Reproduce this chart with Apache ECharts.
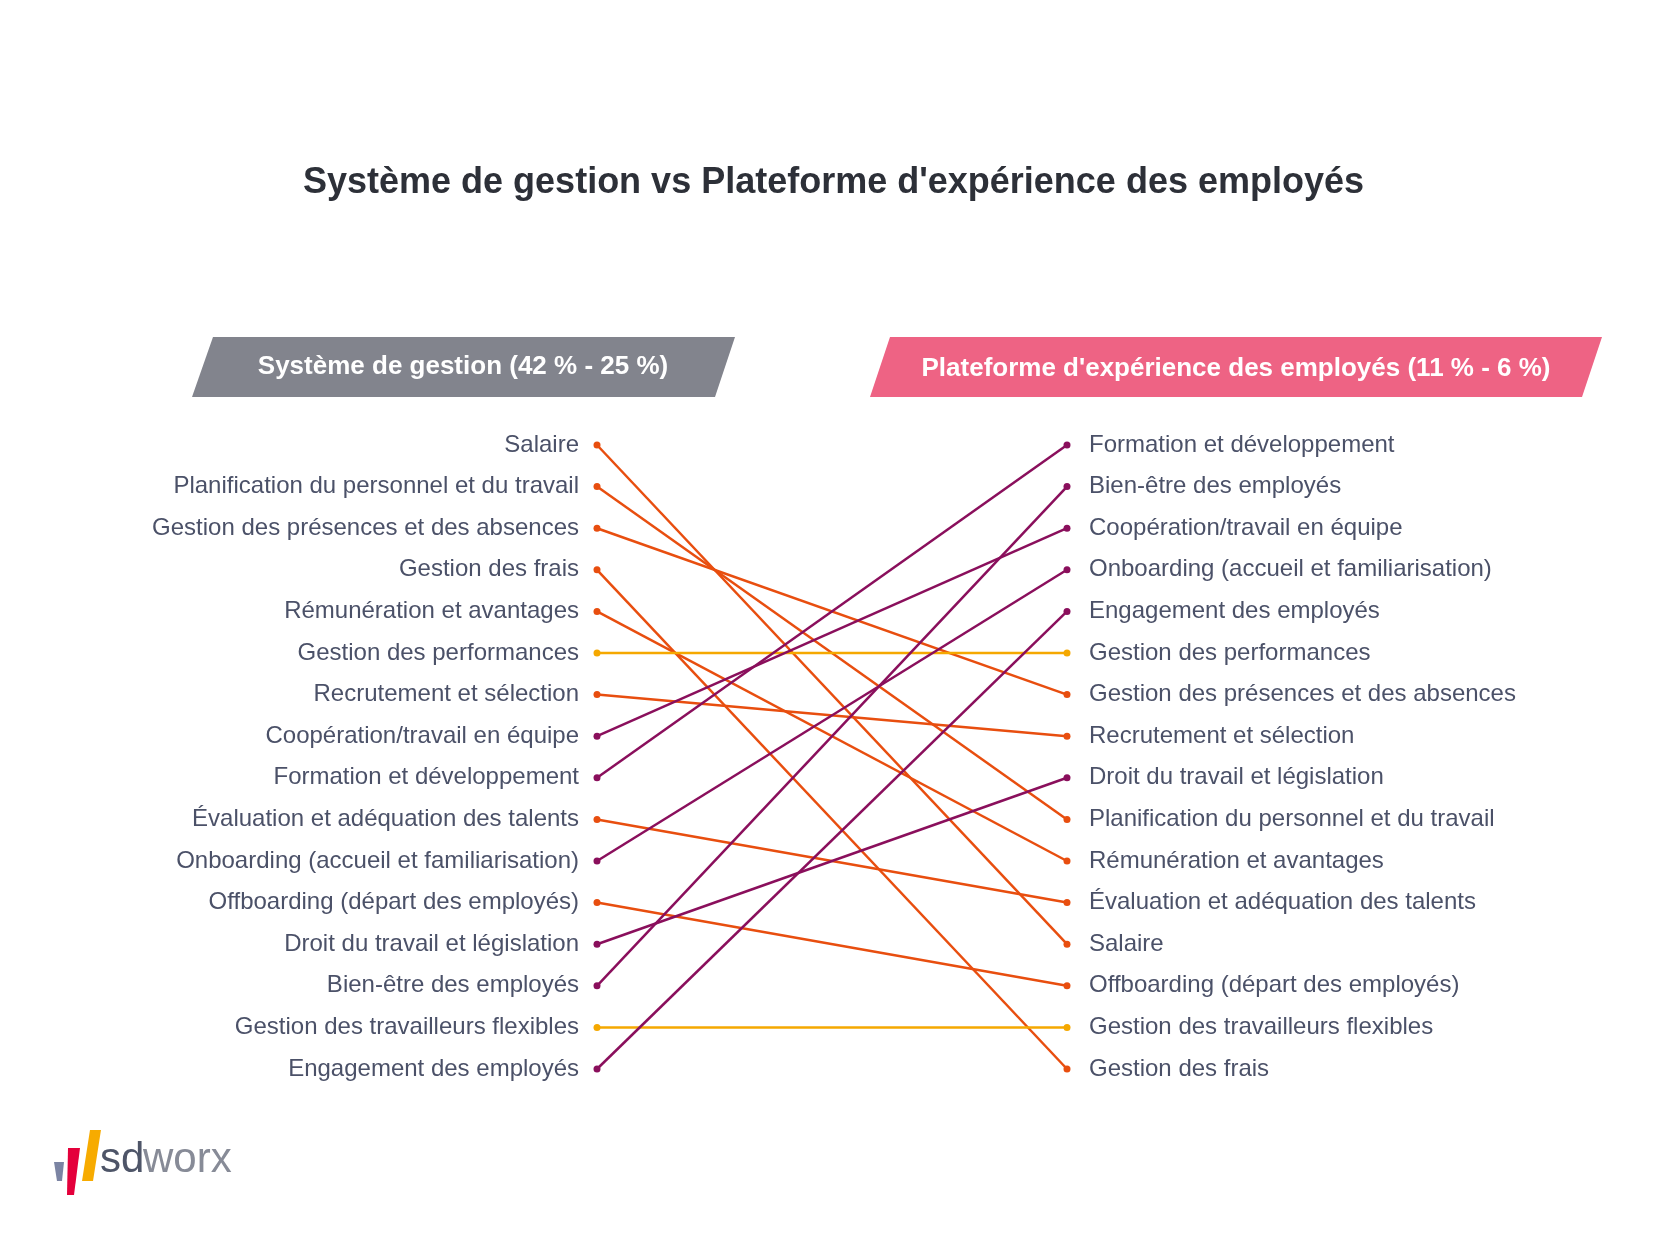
<!DOCTYPE html>
<html><head><meta charset="utf-8">
<script src="https://cdn.jsdelivr.net/npm/echarts@6/dist/echarts.min.js"></script>
<style>html,body{margin:0;background:#fff}#main{width:1667px;height:1250px}</style>
</head><body><div id="main"></div>
<script>
var leftOrder = ['Salaire','Planification du personnel et du travail','Gestion des présences et des absences','Gestion des frais','Rémunération et avantages','Gestion des performances','Recrutement et sélection','Coopération/travail en équipe','Formation et développement','Évaluation et adéquation des talents','Onboarding (accueil et familiarisation)','Offboarding (départ des employés)','Droit du travail et législation','Bien-être des employés','Gestion des travailleurs flexibles','Engagement des employés'];
var rightOrder = ['Formation et développement','Bien-être des employés','Coopération/travail en équipe','Onboarding (accueil et familiarisation)','Engagement des employés','Gestion des performances','Gestion des présences et des absences','Recrutement et sélection','Droit du travail et législation','Planification du personnel et du travail','Rémunération et avantages','Évaluation et adéquation des talents','Salaire','Offboarding (départ des employés)','Gestion des travailleurs flexibles','Gestion des frais'];
var purpleItems = ['Coopération/travail en équipe','Formation et développement','Onboarding (accueil et familiarisation)','Droit du travail et législation','Bien-être des employés','Engagement des employés'];
var yellowItems = ['Gestion des performances','Gestion des travailleurs flexibles'];

function colorOf(n){
  if (purpleItems.indexOf(n) >= 0) return '#8a0f5c';
  if (yellowItems.indexOf(n) >= 0) return '#f5a800';
  return '#e84e0f';
}
var series = leftOrder.map(function(n){
  return {
    type:'line', name:n, symbol:'circle', symbolSize:7, silent:true,
    lineStyle:{width:2.5,color:colorOf(n)}, itemStyle:{color:colorOf(n)},
    data:[[0, leftOrder.indexOf(n)],[1, rightOrder.indexOf(n)]]
  };
});
var labelStyle = {color:'#4b5168', fontSize:24, fontFamily:'Liberation Sans, Arial'};
var chart = echarts.init(document.getElementById('main'));
chart.setOption({
  animation:false,
  title:{text:"Système de gestion vs Plateforme d'expérience des employés", left:'center', top:160,
    textStyle:{fontSize:36, fontWeight:'bold', color:'#2d3038', fontFamily:'Liberation Sans, Arial'}},
  grid:{left:597, right:600, top:445, bottom:181},
  xAxis:{type:'value', min:0, max:1, show:false},
  yAxis:[
    {type:'category', data:leftOrder, inverse:true, boundaryGap:false, position:'left',
     axisLine:{show:false}, axisTick:{show:false}, splitLine:{show:false},
     axisLabel:Object.assign({margin:18}, labelStyle)},
    {type:'category', data:rightOrder, inverse:true, boundaryGap:false, position:'right',
     axisLine:{show:false}, axisTick:{show:false}, splitLine:{show:false},
     axisLabel:Object.assign({margin:22}, labelStyle)}
  ],
  series:series,
  graphic:[
    {type:'polygon', shape:{points:[[213,337],[735,337],[715,397],[192,397]]}, style:{fill:'#82848d'}},
    {type:'text', x:463, y:367, style:{text:'Système de gestion (42 % - 25 %)', fill:'#fff', font:'bold 26px Liberation Sans, Arial', align:'center', verticalAlign:'middle'}},
    {type:'polygon', shape:{points:[[890,337],[1602,337],[1582,397],[870,397]]}, style:{fill:'#ee6384'}},
    {type:'text', x:1236, y:369, style:{text:"Plateforme d'expérience des employés (11 % - 6 %)", fill:'#fff', font:'bold 26px Liberation Sans, Arial', align:'center', verticalAlign:'middle'}},
    {type:'polygon', shape:{points:[[54,1162],[64,1162],[62,1181],[57,1181]]}, style:{fill:'#7b84a3'}},
    {type:'polygon', shape:{points:[[68,1148],[80,1148],[74,1195],[67,1195]]}, style:{fill:'#e4003b'}},
    {type:'polygon', shape:{points:[[90,1130],[101,1130],[93,1181],[82,1181]]}, style:{fill:'#f7ab00'}},
    {type:'text', x:100, y:1160, style:{text:'sd', fill:'#4e5568', font:'42px Liberation Sans, Arial', verticalAlign:'middle'}},
    {type:'text', x:143, y:1160, style:{text:'worx', fill:'#878b97', font:'42px Liberation Sans, Arial', verticalAlign:'middle'}}
  ]
});
</script></body></html>
